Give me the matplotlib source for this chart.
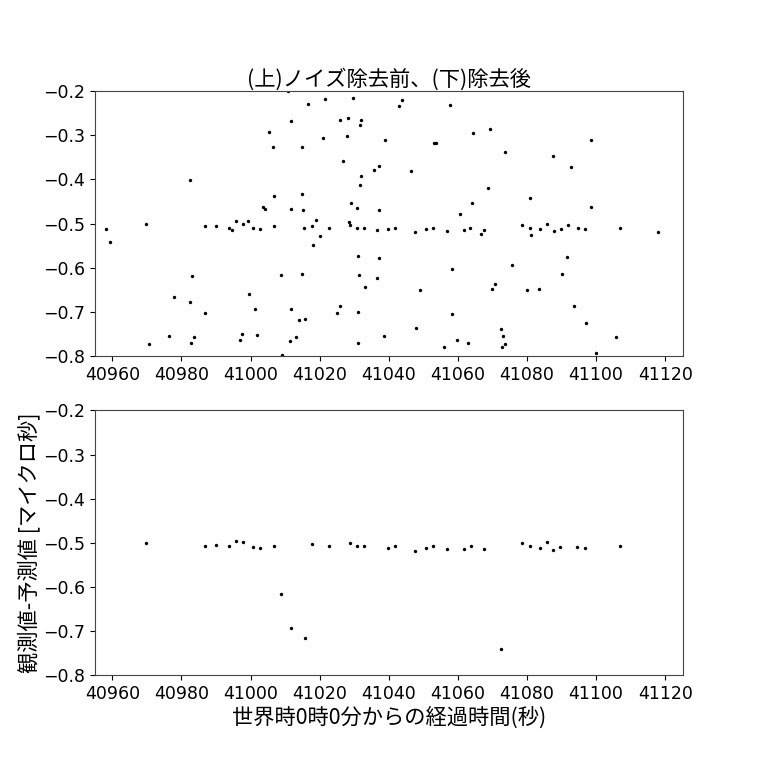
import numpy as np
import matplotlib
matplotlib.use('Agg')
import matplotlib.pyplot as plt

plt.rcParams['font.family'] = ['Noto Sans CJK JP', 'DejaVu Sans']
plt.rcParams['font.size'] = 12.5
plt.rcParams['axes.unicode_minus'] = True

# 観測値-予測値 (ノイズ除去前)
t_raw = [40958.1, 40959.3, 40969.7, 40970.5, 40976.4, 40977.9, 40982.5, 40983.0, 40982.5, 40982.8,
         40983.6, 40986.7, 40986.8, 40989.9, 40993.8, 40994.7, 40995.7, 40997.7, 40999.4, 41000.7,
         41002.7, 40997.1, 40997.5, 40999.7, 41001.3, 41001.8, 41003.7, 41004.3, 41005.3, 41006.5,
         41006.7, 41006.7, 41008.7, 41009.2,
         41010.9, 41011.7, 41016.5, 41021.6, 41029.8, 41025.9, 41028.3, 41032.1, 41031.8, 41021.1,
         41028.0, 41015.0, 41026.9, 41038.8, 41043.1, 41043.9, 41053.1, 41053.7, 41057.6, 41064.5,
         41035.7, 41037.3, 41046.3, 41032.0, 41031.8, 41014.9, 41011.6, 41015.2, 41019.0, 41017.8,
         41015.5, 41022.7, 41020.2, 41018.2, 41029.0, 41030.8, 41028.6, 41028.7, 41030.8, 41032.7,
         41037.1, 41036.7, 41039.7, 41041.7, 41047.7, 41050.7, 41052.7, 41056.8, 41061.7, 41063.6,
         41064.0, 41060.7, 41031.1, 41037.3, 41031.5, 41036.7, 41033.1, 41058.4, 41049.0, 41015.0,
         41011.8, 41014.1, 41015.7, 41025.9, 41025.0, 41031.2, 41011.4, 41013.3, 41031.0, 41038.6,
         41048.0, 41058.4, 41056.0, 41059.7, 41063.0,
         41069.4, 41073.5, 41068.6, 41066.8, 41067.7, 41075.8, 41070.0, 41070.6, 41072.6, 41073.2,
         41072.9, 41073.7, 41078.7, 41080.8, 41081.2, 41080.8, 41083.7, 41085.8, 41087.7, 41089.7,
         41092.0, 41094.7, 41096.7, 41087.6, 41092.6, 41098.4, 41098.5, 41091.6, 41090.1, 41080.1,
         41083.5, 41093.5, 41097.0, 41100.0, 41105.8, 41106.9, 41117.9]
d_raw = [-0.512, -0.541, -0.501, -0.773, -0.754, -0.666, -0.402, -0.618, -0.677, -0.770,
         -0.757, -0.506, -0.703, -0.506, -0.509, -0.514, -0.495, -0.500, -0.494, -0.511,
         -0.513, -0.763, -0.749, -0.660, -0.694, -0.752, -0.463, -0.468, -0.292, -0.327,
         -0.438, -0.506, -0.616, -0.798,
         -0.201, -0.268, -0.229, -0.218, -0.215, -0.266, -0.262, -0.266, -0.277, -0.306,
         -0.301, -0.326, -0.358, -0.311, -0.234, -0.221, -0.317, -0.317, -0.231, -0.294,
         -0.378, -0.369, -0.380, -0.392, -0.413, -0.432, -0.466, -0.470, -0.491, -0.505,
         -0.509, -0.509, -0.528, -0.549, -0.453, -0.464, -0.496, -0.502, -0.509, -0.509,
         -0.469, -0.514, -0.513, -0.509, -0.519, -0.513, -0.509, -0.516, -0.515, -0.509,
         -0.453, -0.479, -0.574, -0.578, -0.617, -0.624, -0.643, -0.603, -0.651, -0.615,
         -0.693, -0.718, -0.715, -0.687, -0.702, -0.700, -0.765, -0.756, -0.770, -0.755,
         -0.737, -0.704, -0.779, -0.763, -0.771,
         -0.285, -0.339, -0.420, -0.524, -0.514, -0.593, -0.648, -0.637, -0.738, -0.755,
         -0.780, -0.773, -0.502, -0.509, -0.526, -0.442, -0.513, -0.500, -0.516, -0.512,
         -0.502, -0.511, -0.513, -0.348, -0.373, -0.310, -0.463, -0.576, -0.615, -0.650,
         -0.647, -0.687, -0.725, -0.792, -0.757, -0.509, -0.520]

# 観測値-予測値 (ノイズ除去後)
t_clean = [40969.7, 40986.7, 40989.9, 40993.8, 40995.7, 40997.7, 41000.7, 41002.7, 41006.7, 41008.7,
           41011.8, 41015.7, 41017.8, 41022.7, 41028.9, 41030.8, 41032.8, 41039.7, 41041.7, 41047.7,
           41050.8, 41052.7, 41056.8, 41061.7, 41063.7, 41067.7, 41072.5, 41078.7, 41080.8, 41083.7,
           41085.7, 41087.6, 41089.6, 41094.6, 41096.7, 41106.8]
d_clean = [-0.500, -0.506, -0.505, -0.508, -0.495, -0.498, -0.509, -0.512, -0.506, -0.615,
           -0.692, -0.715, -0.503, -0.508, -0.501, -0.508, -0.508, -0.511, -0.508, -0.518,
           -0.512, -0.508, -0.514, -0.514, -0.508, -0.513, -0.739, -0.501, -0.508, -0.512,
           -0.499, -0.515, -0.510, -0.509, -0.512, -0.508]

fig = plt.figure(figsize=(7.63, 7.63), dpi=100)
fig.subplots_adjust(left=0.1245, right=0.8945, top=0.8807, bottom=0.1147, hspace=0.204)

ax1 = fig.add_subplot(2, 1, 1)
ax1.scatter(t_raw, d_raw, s=6, c='k', linewidths=0)
ax1.set_xlim(40955, 41125)
ax1.set_ylim(-0.8, -0.2)
ax1.set_title('(上)ノイズ除去前、(下)除去後', fontsize=15.3, pad=4)

ax2 = fig.add_subplot(2, 1, 2)
ax2.scatter(t_clean, d_clean, s=6, c='k', linewidths=0)
ax2.set_xlim(40955, 41125)
ax2.set_ylim(-0.8, -0.2)
ax2.set_xlabel('世界時0時0分からの経過時間(秒)', fontsize=15.3, labelpad=2)
ax2.set_ylabel('観測値-予測値 [マイクロ秒]', fontsize=15.3, labelpad=2)

for ax in (ax1, ax2):
    ax.set_xticks(np.arange(40960, 41121, 20))
    ax.set_yticks(np.arange(-0.8, -0.19, 0.1))
    for lab in ax.get_xticklabels() + ax.get_yticklabels():
        lab.set_fontfamily('DejaVu Sans')
    for s in ax.spines.values():
        s.set_color('#444444')

plt.savefig('out.png', dpi=100)
